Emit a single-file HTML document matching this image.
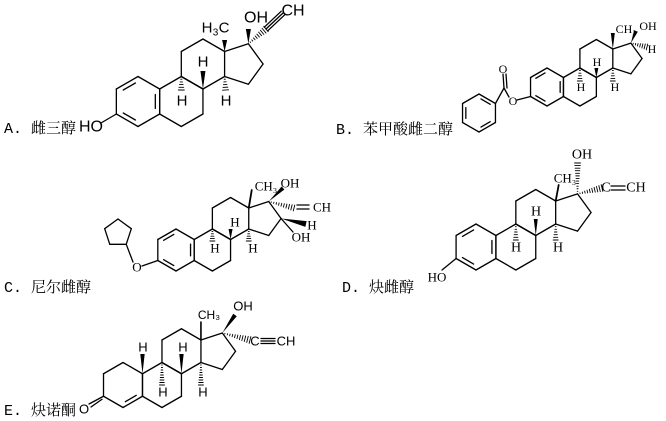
<!DOCTYPE html>
<html><head><meta charset="utf-8"><style>
html,body{margin:0;padding:0;background:#fff;width:666px;height:421px;overflow:hidden}
.lab{position:absolute;font-family:"Liberation Mono","Noto Serif CJK SC","Noto Sans CJK SC",monospace;font-size:15px;color:#000;white-space:nowrap}
</style></head><body>
<svg id="s" width="666" height="421" style="position:absolute;left:0;top:0" xmlns="http://www.w3.org/2000/svg"></svg>
<div class="lab" style="left:4px;top:117px">A. 雌三醇</div>
<div class="lab" style="left:336px;top:118px">B. 苯甲酸雌二醇</div>
<div class="lab" style="left:4px;top:276px">C. 尼尔雌醇</div>
<div class="lab" style="left:342px;top:276px">D. 炔雌醇</div>
<div class="lab" style="left:4px;top:399px">E. 炔诺酮</div>
<script>
const svg=document.getElementById('s');const NS='http://www.w3.org/2000/svg';
function el(n,a,t){const e=document.createElementNS(NS,n);for(const k in a)e.setAttribute(k,a[k]);if(t!==undefined)e.textContent=t;svg.appendChild(e);return e;}
function L(a,b,w){el('line',{x1:a[0],y1:a[1],x2:b[0],y2:b[1],stroke:'#000','stroke-width':w||1.3,'stroke-linecap':'round'});}
function T(x,y,t,sz,fam,anc){el('text',{x:x,y:y,'font-size':sz,'font-family':fam,'text-anchor':anc||'middle','dominant-baseline':'central',fill:'#000'},t);}
function hex(cx,cy,s){const p=[];for(let i=0;i<6;i++){const a=(-90+60*i)*Math.PI/180;p.push([cx+s*Math.cos(a),cy+s*Math.sin(a)]);}return p;}
function ring(p){for(let i=0;i<p.length;i++)L(p[i],p[(i+1)%p.length]);}
function inner(p,q,c){const f=0.2,g=0.15;const a=[p[0]+(c[0]-p[0])*f,p[1]+(c[1]-p[1])*f],b=[q[0]+(c[0]-q[0])*f,q[1]+(c[1]-q[1])*f];
 const dx=b[0]-a[0],dy=b[1]-a[1];L([a[0]+dx*g,a[1]+dy*g],[b[0]-dx*g,b[1]-dy*g]);}
function wedge(a,b,w){const dx=b[0]-a[0],dy=b[1]-a[1],l=Math.hypot(dx,dy),nx=-dy/l*w,ny=dx/l*w;
 el('polygon',{points:`${a[0]},${a[1]} ${b[0]+nx},${b[1]+ny} ${b[0]-nx},${b[1]-ny}`,fill:'#000'});}
function hash(a,b,w){const dx=b[0]-a[0],dy=b[1]-a[1],l=Math.hypot(dx,dy),nx=-dy/l,ny=dx/l;const n=Math.max(4,Math.round(l/2.5));
 for(let i=1;i<=n;i++){const t=i/n,x=a[0]+dx*t,y=a[1]+dy*t,h=w*t;L([x-nx*h,y-ny*h],[x+nx*h,y+ny*h],0.9);}}
function triple(a,b){const dx=b[0]-a[0],dy=b[1]-a[1],l=Math.hypot(dx,dy),nx=-dy/l*2.5,ny=dx/l*2.5;
 L(a,b);L([a[0]+nx,a[1]+ny],[b[0]+nx,b[1]+ny]);L([a[0]-nx,a[1]-ny],[b[0]-nx,b[1]-ny]);}
function steroid(cx,cy,s,arom){const w=s*Math.sqrt(3);
 const A=hex(cx,cy,s),B=hex(cx+w,cy,s),C=hex(cx+1.5*w,cy-1.5*s,s);
 ring(A);ring(B);ring(C);
 const c13=C[1],c14=C[2],pcx=c13[0]+s*0.688,pcy=cy-1.5*s,R=s*0.8507;
 const pt=a=>[pcx+R*Math.cos(a*Math.PI/180),pcy+R*Math.sin(a*Math.PI/180)];
 const c17=pt(-72),c16=pt(0),c15=pt(72);
 L(c13,c17);L(c17,c16);L(c16,c15);L(c15,c14);
 if(arom){const c=[cx,cy];inner(A[5],A[0],c);inner(A[1],A[2],c);inner(A[3],A[4],c);}
 return {A,B,C,c13,c14,c15,c16,c17,s,w};}
const SANS='"Liberation Sans",sans-serif',SER='"Liberation Serif",serif';

// A
let m=steroid(138,101.5,25,true);
wedge(m.c13,[m.c13[0],40],2.5);T(207,28,'H',15,SANS);T(224,28,'C',15,SANS);T(215.5,33,'3',10,SANS);
wedge(m.c17,[m.c17[0],29],2.5);T(256,18,'OH',16,SANS);
hash(m.c17,[266,29],3.5);triple([266,29],[283,13]);T(293,11,'CH',16,SANS);
wedge(m.B[1],[m.B[1][0],71],2.5);T(203,62,'H',15,SANS);
hash(m.B[0],[m.B[0][0],90],3);T(182,101,'H',15,SANS);
hash(m.c14,[m.c14[0]+1,90],3);T(226,101,'H',15,SANS);
L(m.A[4],[101,123]);T(91,127,'HO',16,SANS);

// B
m=steroid(547,87,19,true);
wedge(m.c13,[m.c13[0],33],2);T(626,29,'CH₃',12,SER);
wedge(m.c17,[636,31],2);T(648,26,'OH',12,SER);
hash(m.c17,[647,47],3);T(652,49,'H',12,SER);
wedge(m.B[1],[m.B[1][0],68],2);T(597,62,'H',12,SER);
hash(m.B[0],[m.B[0][0],81],2.5);T(581,87,'H',12,SER);
hash(m.c14,[m.c14[0],81],2.5);T(615,87,'H',12,SER);
L(m.A[4],[517,100]);T(513,101,'O',12,SER);L([509,97],[504,88]);
L([504,88],[503,74]);L([507,88],[506,74]);T(503,69,'O',12,SER);
let bz=hex(479,113,19);ring(bz);L([504,88],bz[1]);
inner(bz[0],bz[1],[479,113]);inner(bz[2],bz[3],[479,113]);inner(bz[4],bz[5],[479,113]);

// C
m=steroid(176,250,21,true);
L(m.c13,[m.c13[0]+3,190],1.8);T(266,186,'CH₃',13,SER);
wedge(m.c17,[283,188],2);T(290,183,'OH',13,SER);
hash(m.c17,[294,208],3);L([297,205],[309,205]);L([297,209],[309,209]);T(322,207,'CH',13,SER);
wedge(m.c16,[306,224],3);T(312,225,'H',13,SER);L(m.c16,[293,232]);T(301,237,'OH',13,SER);
wedge(m.B[1],[m.B[1][0],229],2);T(235,222,'H',13,SER);
hash(m.B[0],[m.B[0][0],241],2.5);T(215,248,'H',13,SER);
hash(m.c14,[m.c14[0],241],2.5);T(253,248,'H',13,SER);
L(m.A[4],[142,266]);T(137,267,'O',13,SER);
{const cx=118,cy=233,R=14,p=[];for(let i=0;i<5;i++){const a=(54+72*i)*Math.PI/180;p.push([cx+R*Math.cos(a),cy+R*Math.sin(a)]);}ring(p);L(p[0],[133,262]);}

// D
m=steroid(476,247,23,true);
L(m.c13,[m.c13[0]+3,185],1.8);T(565,178,'CH₃',13,SER);
hash(m.c17,[m.c17[0],163],3);T(582,155,'OH',14,SER);
hash(m.c17,[602,188],3.5);T(606,188,'C',14,SER);L([611,186],[625,186]);L([611,190],[625,190]);T(636,188,'CH',14,SER);
wedge(m.B[1],[m.B[1][0],219],2);T(536,212,'H',14,SER);
hash(m.B[0],[m.B[0][0],240],2.5);T(516,248,'H',14,SER);
hash(m.c14,[m.c14[0],240],2.5);T(558,248,'H',14,SER);
L(m.A[4],[442,270]);T(437,277,'HO',13,SER);

// E
m=steroid(123,385,22.5,false);
inner(m.A[3],m.A[2],[123,385]);
L(m.c13,[m.c13[0],322],1.6);T(209,315,'CH₃',12,SANS);
wedge(m.c17,[235,315],2.2);T(243,306,'OH',13,SANS);
hash(m.c17,[250,340],3.5);T(255,341,'C',13,SANS);triple([261,341],[275,341]);T(286,341,'CH',13,SANS);
wedge(m.A[1],[m.A[1][0],354],2.2);T(143,347,'H',13,SANS);
wedge(m.B[1],[m.B[1][0],354],2.2);T(183,347,'H',13,SANS);
hash(m.B[0],[m.B[0][0],385],2.5);T(163,392,'H',13,SANS);
hash(m.c14,[m.c14[0],385],2.5);T(203,392,'H',13,SANS);
{const a=m.A[4];L(a,[89,404]);L([a[0]-1.5,a[1]+3],[91,407]);T(84,409,'O',13,SANS);}
</script>
</body></html>
